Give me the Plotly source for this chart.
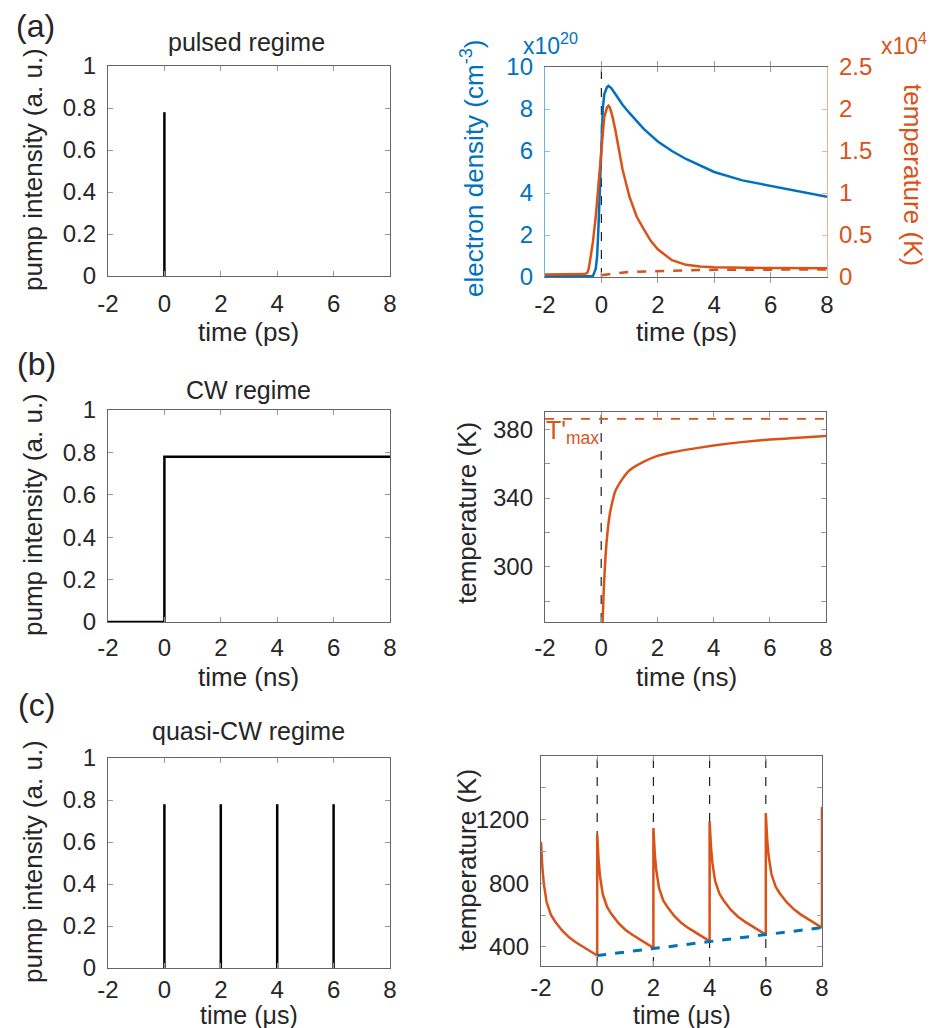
import plotly.graph_objects as go

# ---------------- data ----------------
time_ticks = [-2, 0, 2, 4, 6, 8]
time_ticktext = ["-2", "0", "2", "4", "6", "8"]
pump_ticks = [0, 0.2, 0.4, 0.6, 0.8, 1]
pump_ticktext = ["0", "0.2", "0.4", "0.6", "0.8", "1"]

# (a) pulsed regime
pulse_a_times = [0]
pulse_amp = 0.78

# (a) right: electron density (x1e20 cm^-3) and temperature (x1e4 K)
dens_t = [-2, -1, -0.5, -0.3, -0.2, -0.15, -0.1, -0.05, 0, 0.05, 0.1, 0.2, 0.25, 0.35,
          0.5, 0.75, 1, 1.5, 2, 2.5, 3, 4, 5, 6, 7, 8]
dens_v = [0.03, 0.03, 0.03, 0.05, 0.4, 1.0, 2.5, 4.5, 6.5, 8.0, 8.7, 9.05, 9.1, 9.0,
          8.7, 8.2, 7.8, 7.05, 6.45, 6.0, 5.62, 5.0, 4.6, 4.33, 4.07, 3.82]

temp_t = [-2, -1, -0.6, -0.5, -0.45, -0.4, -0.3, -0.2, -0.1, 0, 0.1, 0.2, 0.25, 0.3,
          0.4, 0.5, 0.66, 0.75, 1.0, 1.25, 1.5, 1.75, 2.0, 2.5, 3.0, 3.5, 4.0, 5, 6, 8]
temp_v = [0.03, 0.03, 0.035, 0.05, 0.1, 0.2, 0.42, 0.72, 1.15, 1.58, 1.9, 2.02, 2.04, 2.02,
          1.9, 1.74, 1.43, 1.28, 0.95, 0.72, 0.57, 0.43, 0.33, 0.2, 0.145, 0.125, 0.115,
          0.11, 0.107, 0.105]

lattice_t = [0, 0.5, 1, 2, 3, 4, 6, 8]
lattice_v = [0.02, 0.045, 0.06, 0.073, 0.08, 0.085, 0.089, 0.09]

# (b) CW regime
cw_t = [-2, 0, 0, 8]
cw_v = [0, 0, 0.78, 0.78]

cw_temp_t = [0.05, 0.08, 0.1, 0.15, 0.2, 0.3, 0.4, 0.5, 0.75, 1.0, 1.5, 2.0, 2.5, 3.0,
             4.0, 5.0, 6.0, 7.0, 8.0]
cw_temp_v = [268, 282, 290, 305, 316, 330, 338, 344, 351, 356, 361, 364.5, 366.5, 368,
             370.5, 372.5, 374, 375, 376]
t_max_prime = 386
cw_major_ticks = [300, 340, 380]
cw_minor_ticks = [280, 320, 360]

# (c) quasi-CW regime
pulse_c_times = [0, 2, 4, 6]

qcw_t = [-2, -1.98, -1.95, -1.9, -1.8, -1.65, -1.5, -1.25, -1.0, -0.75, -0.5, -0.25, 0,
         0, 0.02, 0.05, 0.1, 0.2, 0.35, 0.5, 0.75, 1.0, 1.25, 1.5, 1.75, 2,
         2, 2.02, 2.05, 2.1, 2.2, 2.35, 2.5, 2.75, 3.0, 3.25, 3.5, 3.75, 4,
         4, 4.02, 4.05, 4.1, 4.2, 4.35, 4.5, 4.75, 5.0, 5.25, 5.5, 5.75, 6,
         6, 6.02, 6.05, 6.1, 6.2, 6.35, 6.5, 6.75, 7.0, 7.25, 7.5, 7.75, 8,
         8]
qcw_v = [1060, 981, 896, 796, 682, 603, 560, 503, 460, 428, 400, 371, 346,
         1108, 1029, 944, 844, 730, 651, 608, 551, 508, 476, 448, 419, 394,
         1148, 1070, 984, 885, 771, 692, 650, 593, 550, 518, 489, 461, 436,
         1190, 1112, 1026, 926, 812, 734, 691, 634, 591, 559, 530, 502, 477,
         1238, 1159, 1073, 973, 858, 779, 736, 679, 636, 603, 575, 546, 521,
         1280]

min_t = [0, 2, 4, 6, 8]
min_v = [346, 394, 436, 477, 521]
qcw_major_ticks = [400, 800, 1200]
qcw_minor_ticks = [600, 1000, 1400]

# ---------------- styling ----------------
W, H = 936, 1028
OFF = 8  # page body margin
FONT = "Liberation Sans, Arial, Helvetica, sans-serif"
TXT = "#262626"
BLUE = "#0072BD"
ORANGE = "#D95319"
TICK = 24
LABEL = 26
TITLE = 25


def xd(a, b):
    return [(a - OFF) / W, (b - OFF) / W]


def yd(top, bot):
    return [1 - (bot - OFF) / H, 1 - (top - OFF) / H]


def base_axis(**kw):
    d = dict(showline=True, linecolor="#666", linewidth=1.3, mirror="allticks",
             ticks="inside", ticklen=5, tickwidth=1, tickcolor="#999",
             showgrid=False, zeroline=False, ticklabelstandoff=6, automargin=False,
             tickfont=dict(size=TICK, color=TXT, family=FONT))
    d.update(kw)
    return d


fig = go.Figure()

# (a) left
px, py = [], []
for t in pulse_a_times:
    px += [t, t, None]
    py += [0, pulse_amp, None]
fig.add_trace(go.Scatter(x=px, y=py, mode="lines", line=dict(color="black", width=2.5),
                         xaxis="x", yaxis="y"))

# (a) right
fig.add_trace(go.Scatter(x=dens_t, y=dens_v, mode="lines", line=dict(color=BLUE, width=2.5),
                         xaxis="x2", yaxis="y2"))
fig.add_trace(go.Scatter(x=temp_t, y=temp_v, mode="lines", line=dict(color=ORANGE, width=2.5),
                         xaxis="x2", yaxis="y3"))
fig.add_trace(go.Scatter(x=lattice_t, y=lattice_v, mode="lines",
                         line=dict(color=ORANGE, width=2.5, dash="dash"),
                         xaxis="x2", yaxis="y3"))

# (b) left
fig.add_trace(go.Scatter(x=cw_t, y=cw_v, mode="lines", line=dict(color="black", width=2.5),
                         xaxis="x3", yaxis="y4"))
# (b) right
fig.add_trace(go.Scatter(x=cw_temp_t, y=cw_temp_v, mode="lines",
                         line=dict(color=ORANGE, width=2.5, shape="spline", smoothing=0.6),
                         xaxis="x4", yaxis="y5"))

# (c) left
px, py = [], []
for t in pulse_c_times:
    px += [t, t, None]
    py += [0, pulse_amp, None]
fig.add_trace(go.Scatter(x=px, y=py, mode="lines", line=dict(color="black", width=2.5),
                         xaxis="x5", yaxis="y6"))
# (c) right
fig.add_trace(go.Scatter(x=qcw_t, y=qcw_v, mode="lines", line=dict(color=ORANGE, width=2.5),
                         xaxis="x6", yaxis="y7"))
fig.add_trace(go.Scatter(x=[min_t[0], min_t[-1]], y=[min_v[0], min_v[-1]], mode="lines",
                         line=dict(color=BLUE, width=3, dash="dash"),
                         xaxis="x6", yaxis="y7"))

# shapes: reference dashed lines
shapes = []
for t in pulse_a_times:
    shapes.append(dict(type="line", xref="x2", yref="y2 domain", x0=t, x1=t, y0=0, y1=1,
                       line=dict(color="#222", width=1.2, dash="dash"), layer="below"))
shapes.append(dict(type="line", xref="x4", yref="y5 domain", x0=0, x1=0, y0=0, y1=1,
                   line=dict(color="#222", width=1.2, dash="dash"), layer="below"))
shapes.append(dict(type="line", xref="x4 domain", yref="y5", x0=0, x1=1,
                   y0=t_max_prime, y1=t_max_prime,
                   line=dict(color=ORANGE, width=1.6, dash="dash"), layer="below"))
for t in pulse_c_times:
    shapes.append(dict(type="line", xref="x6", yref="y7 domain", x0=t, x1=t, y0=0, y1=1,
                       line=dict(color="#222", width=1.2, dash="dash"), layer="below"))

# domains (screen pixels)
P = {
    "a_l": (108, 390, 66, 276),
    "a_r": (545, 827, 67, 277),
    "b_l": (108, 390, 410, 622),
    "b_r": (545, 826, 412, 622),
    "c_l": (108, 390, 758, 968),
    "c_r": (541, 822, 756, 966),
}

minor_style = dict(ticks="inside", ticklen=5, tickwidth=1, tickcolor="#999", showgrid=False)

xcommon = dict(range=[-2, 8], tickvals=time_ticks, ticktext=time_ticktext)
layout = dict(
    width=W, height=H, margin=dict(l=0, r=0, t=0, b=0, pad=0),
    paper_bgcolor="white", plot_bgcolor="white", showlegend=False,
    font=dict(family=FONT, color=TXT),
    shapes=shapes,
    xaxis=base_axis(domain=xd(*P["a_l"][:2]), anchor="y", **xcommon),
    yaxis=base_axis(domain=yd(*P["a_l"][2:]), anchor="x", range=[0, 1],
                    tickvals=pump_ticks, ticktext=pump_ticktext),
    xaxis2=base_axis(domain=xd(*P["a_r"][:2]), anchor="y2", **xcommon),
    yaxis2=base_axis(domain=yd(*P["a_r"][2:]), anchor="x2", range=[0, 10],
                     tickvals=[0, 2, 4, 6, 8, 10], mirror=False,
                     linecolor="rgba(0,114,189,0.55)", tickcolor="rgba(0,114,189,0.45)",
                     tickfont=dict(size=TICK, color=BLUE, family=FONT)),
    yaxis3=base_axis(domain=yd(*P["a_r"][2:]), anchor="x2", overlaying="y2", side="right",
                     range=[0, 2.5], tickvals=[0, 0.5, 1, 1.5, 2, 2.5],
                     ticktext=["0", "0.5", "1", "1.5", "2", "2.5"], mirror=False,
                     linecolor="rgba(217,83,25,0.45)", tickcolor="rgba(217,83,25,0.45)",
                     tickfont=dict(size=TICK, color=ORANGE, family=FONT)),
    xaxis3=base_axis(domain=xd(*P["b_l"][:2]), anchor="y4", ticklabelstandoff=4, **xcommon),
    yaxis4=base_axis(domain=yd(*P["b_l"][2:]), anchor="x3", range=[0, 1],
                     tickvals=pump_ticks, ticktext=pump_ticktext),
    xaxis4=base_axis(domain=xd(*P["b_r"][:2]), anchor="y5", ticklabelstandoff=4, **xcommon),
    yaxis5=base_axis(domain=yd(*P["b_r"][2:]), anchor="x4", range=[268, 390],
                     tickvals=cw_major_ticks,
                     minor=dict(tickvals=cw_minor_ticks, **minor_style)),
    xaxis5=base_axis(domain=xd(*P["c_l"][:2]), anchor="y6", ticklabelstandoff=0, **xcommon),
    yaxis6=base_axis(domain=yd(*P["c_l"][2:]), anchor="x5", range=[0, 1],
                     tickvals=pump_ticks, ticktext=pump_ticktext),
    xaxis6=base_axis(domain=xd(*P["c_r"][:2]), anchor="y7", ticklabelstandoff=0, **xcommon),
    yaxis7=base_axis(domain=yd(*P["c_r"][2:]), anchor="x6", range=[280, 1600],
                     tickvals=qcw_major_ticks,
                     minor=dict(tickvals=qcw_minor_ticks, **minor_style)),
)
fig.update_layout(**layout)


def ann(text, x, y, size=LABEL, color=TXT, angle=0, xanchor="center", yanchor="middle"):
    fig.add_annotation(text=text, x=(x - OFF) / W, y=1 - (y - OFF) / H,
                       xref="paper", yref="paper", borderpad=0,
                       showarrow=False, textangle=angle, xanchor=xanchor, yanchor=yanchor,
                       font=dict(size=size, color=color, family=FONT))


# panel labels
ann("(a)", 35, 26, size=32)
ann("(b)", 36, 364, size=32)
ann("(c)", 36, 705, size=32)
# titles
ann("pulsed regime", 246, 42, size=TITLE)
ann("CW regime", 249, 390, size=TITLE)
ann("quasi-CW regime", 249, 731, size=TITLE)
# left y titles
ann("pump intensity (a. u.)", 33, 170, angle=-90)
ann("pump intensity (a. u.)", 33, 515, angle=-90)
ann("pump intensity (a. u.)", 33, 862, angle=-90)
# x titles
ann("time (ps)", 249, 332)
ann("time (ps)", 686, 332)
ann("time (ns)", 249, 677)
ann("time (ns)", 686, 677)
ann("time (μs)", 249, 1015, size=25)
ann("time (μs)", 682, 1015, size=25)
# right panel y titles
ann("electron density (cm<sup>-3</sup>)", 472, 168, color=BLUE, angle=-90)
ann("temperature (K)", 913, 175, color=ORANGE, angle=90)
ann("temperature (K)", 467, 513, angle=-90)
ann("temperature (K)", 467, 860, angle=-90)
# exponent multipliers
ann("x10<sup>20</sup>", 522, 60, size=23, color=BLUE, xanchor="left", yanchor="bottom")
ann("x10<sup>4</sup>", 880, 60, size=23, color=ORANGE, xanchor="left", yanchor="bottom")
# T'max label
ann("T'<sub>max</sub>", 545, 432, size=25, color=ORANGE, xanchor="left")

fig.write_html("out.html")
